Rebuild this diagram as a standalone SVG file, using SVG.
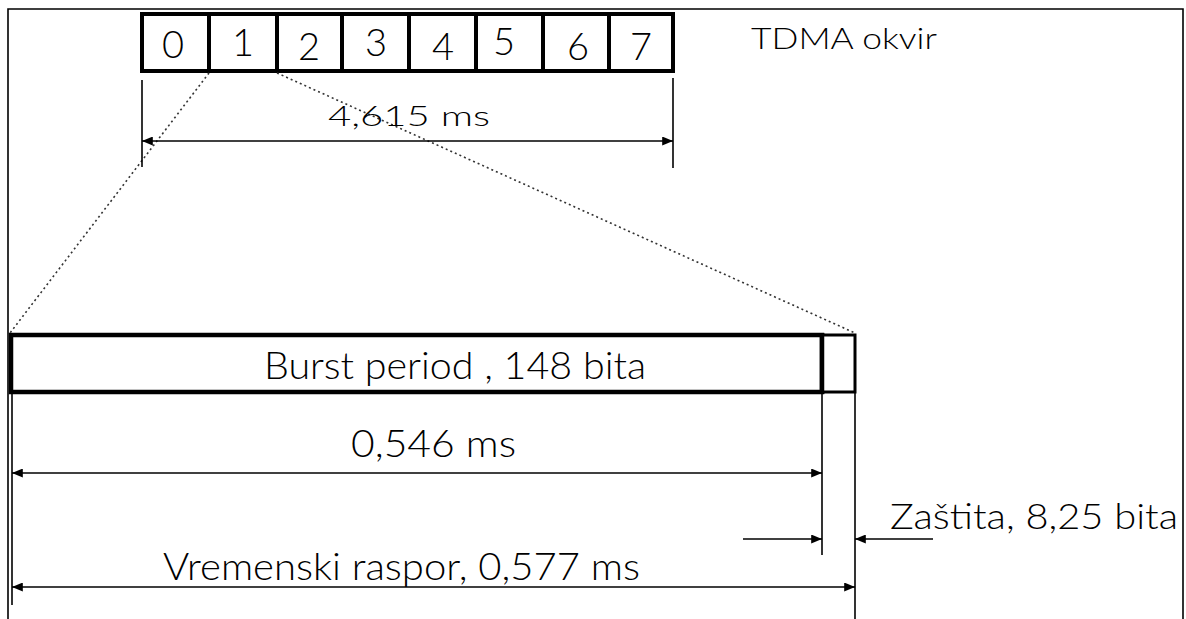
<svg xmlns="http://www.w3.org/2000/svg" width="1186" height="619" viewBox="0 0 1186 619">
<style>
  .t { font-family: "Lato", "Liberation Sans", Arial, sans-serif; font-weight: 300; fill: #000; }
  .slot { fill: #fff; stroke: #000; stroke-width: 4; }
  .thin { stroke: #000; stroke-width: 1.6; fill: none; }
  .dim { stroke: #000; stroke-width: 1.6; fill: none; }
  .dot { stroke: #333; stroke-width: 1.6; stroke-dasharray: 2 3; fill: none; }
</style>
<defs>
  <marker id="ah" viewBox="0 0 12 10" refX="12" refY="5" markerWidth="12" markerHeight="9" markerUnits="userSpaceOnUse" orient="auto-start-reverse">
    <path d="M0,0 L12,5 L0,10 z" fill="#000"/>
  </marker>
</defs>
<rect x="0" y="0" width="1186" height="619" fill="#fff"/>
<g id="frame">
  <path class="thin" d="M8,619 L8,9 L1183,9 L1183,619"/>
</g>
<g id="tdma-frame">
  <rect class="slot" x="142" y="14" width="67" height="57"/>
  <rect class="slot" x="209" y="14" width="68" height="57"/>
  <rect class="slot" x="277" y="14" width="65" height="57"/>
  <rect class="slot" x="342" y="14" width="67" height="57"/>
  <rect class="slot" x="409" y="14" width="67" height="57"/>
  <rect class="slot" x="476" y="14" width="67" height="57"/>
  <rect class="slot" x="543" y="14" width="66" height="57"/>
  <rect class="slot" x="609" y="14" width="64" height="57"/>
  <text class="t" x="173" y="58" font-size="38" text-anchor="middle">0</text>
  <text class="t" x="243" y="56" font-size="38" text-anchor="middle">1</text>
  <text class="t" x="309" y="60" font-size="38" text-anchor="middle">2</text>
  <text class="t" x="376" y="56" font-size="38" text-anchor="middle">3</text>
  <text class="t" x="443" y="60" font-size="38" text-anchor="middle">4</text>
  <text class="t" x="504" y="55" font-size="38" text-anchor="middle">5</text>
  <text class="t" x="578" y="60" font-size="38" text-anchor="middle">6</text>
  <text class="t" x="641" y="60" font-size="38" text-anchor="middle">7</text>
</g>
<g id="tdma-label">
  <text class="t" x="751" y="49" font-size="30" textLength="186" lengthAdjust="spacingAndGlyphs">TDMA okvir</text>
</g>
<g id="burst">
  <rect x="11" y="335" width="811" height="57" fill="#fff" stroke="#000" stroke-width="4.5"/>
  <rect x="822" y="335" width="33" height="57" fill="#fff" stroke="#000" stroke-width="3"/>
  <line x1="822" y1="333" x2="822" y2="394" stroke="#000" stroke-width="4.5"/>
  <text class="t" x="264" y="379" font-size="37" textLength="382" lengthAdjust="spacingAndGlyphs">Burst period , 148 bita</text>
</g>
<g id="connectors">
  <line class="dot" x1="209" y1="73" x2="10" y2="333"/>
  <line class="dot" x1="277" y1="73" x2="855" y2="333"/>
  <line class="thin" x1="142" y1="80" x2="142" y2="167"/>
  <line class="thin" x1="673" y1="78" x2="673" y2="168"/>
  <line class="dim" x1="142" y1="141" x2="673" y2="141" marker-start="url(#ah)" marker-end="url(#ah)"/>
  <line class="thin" x1="12" y1="392" x2="12" y2="605"/>
  <line class="thin" x1="822" y1="392" x2="822" y2="555"/>
  <line class="thin" x1="855" y1="392" x2="855" y2="619"/>
  <line class="dim" x1="12" y1="473" x2="822" y2="473" marker-start="url(#ah)" marker-end="url(#ah)"/>
  <line class="dim" x1="743" y1="539" x2="822" y2="539" marker-end="url(#ah)"/>
  <line class="dim" x1="933" y1="539" x2="855" y2="539" marker-end="url(#ah)"/>
  <line class="dim" x1="12" y1="587" x2="855" y2="587" marker-start="url(#ah)" marker-end="url(#ah)"/>
</g>
<g id="labels">
  <text class="t" x="328" y="126" font-size="28" textLength="162" lengthAdjust="spacingAndGlyphs">4,615 ms</text>
  <text class="t" x="351" y="457" font-size="38" textLength="165" lengthAdjust="spacingAndGlyphs">0,546 ms</text>
  <text class="t" x="890" y="529" font-size="36" textLength="288" lengthAdjust="spacingAndGlyphs">Zaštita, 8,25 bita</text>
  <text class="t" x="163" y="580" font-size="38" textLength="477" lengthAdjust="spacingAndGlyphs">Vremenski raspor, 0,577 ms</text>
</g>
</svg>
